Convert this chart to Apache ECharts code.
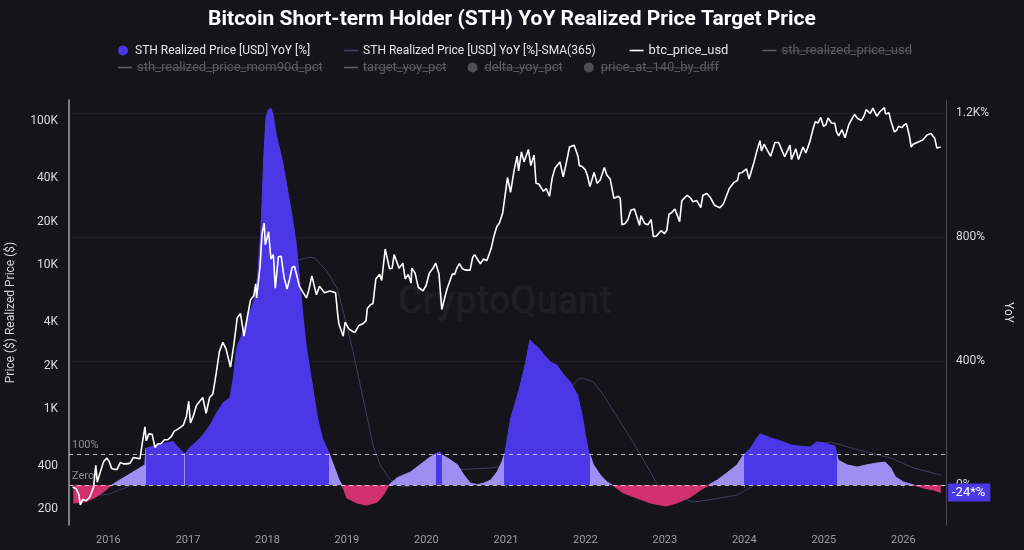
<!DOCTYPE html>
<html>
<head>
<meta charset="utf-8">
<title>Bitcoin Short-term Holder (STH) YoY Realized Price Target Price</title>
<script src="https://cdn.jsdelivr.net/npm/echarts@6/dist/echarts.min.js"></script>
<style>
  html, body { margin: 0; padding: 0; background: #15141a; }
  #chart { width: 1024px; height: 550px; }
</style>
</head>
<body>
<div id="chart"></div>
<script>
// btc price (usd), left log axis - one line per year
const priceDates = [
  '2015-07-20','2015-08-05','2015-08-18','2015-08-25','2015-09-05','2015-09-22','2015-10-08','2015-10-25','2015-11-04','2015-11-11','2015-11-25','2015-12-10','2015-12-25',
  '2016-01-05','2016-01-16','2016-01-28','2016-02-10','2016-02-25','2016-03-10','2016-03-25','2016-04-10','2016-04-25','2016-05-10','2016-05-25','2016-06-05','2016-06-17','2016-06-23','2016-07-05','2016-07-20','2016-08-02','2016-08-15','2016-08-30','2016-09-15','2016-09-30','2016-10-15','2016-10-30','2016-11-10','2016-11-25','2016-12-10','2016-12-25',
  '2017-01-04','2017-01-12','2017-01-25','2017-02-08','2017-02-22','2017-03-10','2017-03-25','2017-04-10','2017-04-25','2017-05-10','2017-05-25','2017-06-10','2017-06-25','2017-07-15','2017-07-30','2017-08-15','2017-08-30','2017-09-15','2017-10-01','2017-10-15','2017-10-30','2017-11-08','2017-11-12','2017-11-28','2017-12-07','2017-12-17','2017-12-22',
  '2018-01-06','2018-01-17','2018-01-28','2018-02-06','2018-02-20','2018-03-05','2018-03-18','2018-04-01','2018-04-12','2018-04-24','2018-05-05','2018-05-28','2018-06-12','2018-06-29','2018-07-10','2018-07-24','2018-08-14','2018-08-28','2018-09-04','2018-09-20','2018-10-15','2018-11-10','2018-11-20','2018-11-25','2018-12-15','2018-12-24',
  '2019-01-10','2019-01-28','2019-02-07','2019-02-25','2019-03-15','2019-03-30','2019-04-05','2019-04-20','2019-05-01','2019-05-14','2019-05-31','2019-06-10','2019-06-26','2019-07-16','2019-07-28','2019-08-06','2019-08-29','2019-09-15','2019-09-26','2019-10-10','2019-10-23','2019-10-26','2019-11-10','2019-11-25','2019-12-17','2019-12-31',
  '2020-01-15','2020-01-30','2020-02-13','2020-02-28','2020-03-12','2020-03-16','2020-04-05','2020-04-30','2020-05-10','2020-05-20','2020-06-01','2020-06-15','2020-07-01','2020-07-20','2020-08-01','2020-08-10','2020-09-05','2020-09-20','2020-10-05','2020-10-25','2020-11-05','2020-11-20','2020-12-01','2020-12-17',
  '2021-01-08','2021-01-22','2021-02-08','2021-02-21','2021-02-28','2021-03-13','2021-03-25','2021-04-14','2021-04-25','2021-05-10','2021-05-19','2021-06-01','2021-06-10','2021-06-22','2021-07-05','2021-07-20','2021-08-01','2021-08-14','2021-09-06','2021-09-21','2021-10-05','2021-10-20','2021-11-10','2021-11-28','2021-12-04','2021-12-15','2021-12-31',
  '2022-01-10','2022-01-22','2022-02-10','2022-02-24','2022-03-10','2022-03-29','2022-04-10','2022-04-25','2022-05-12','2022-06-01','2022-06-10','2022-06-18','2022-07-01','2022-07-15','2022-07-29','2022-08-14','2022-09-07','2022-09-13','2022-09-30','2022-10-15','2022-10-30','2022-11-05','2022-11-09','2022-11-21','2022-12-15','2022-12-30',
  '2023-01-10','2023-01-20','2023-02-01','2023-02-16','2023-03-10','2023-03-20','2023-04-14','2023-04-28','2023-05-10','2023-05-28','2023-06-15','2023-06-25','2023-07-13','2023-07-30','2023-08-17','2023-09-11','2023-09-25','2023-10-01','2023-10-24','2023-11-15','2023-12-01','2023-12-08','2023-12-20',
  '2024-01-11','2024-01-23','2024-02-15','2024-02-28','2024-03-13','2024-03-20','2024-04-01','2024-04-15','2024-05-01','2024-05-21','2024-06-07','2024-06-25','2024-07-05','2024-07-29','2024-08-05','2024-08-25','2024-09-06','2024-09-27','2024-10-10','2024-10-29','2024-11-12','2024-11-22','2024-12-05','2024-12-17','2024-12-30',
  '2025-01-10','2025-01-20','2025-02-05','2025-02-20','2025-02-28','2025-03-10','2025-03-25','2025-04-08','2025-04-25','2025-05-10','2025-05-22','2025-06-05','2025-06-22','2025-07-05','2025-07-14','2025-08-02','2025-08-14','2025-09-01','2025-09-15','2025-10-06','2025-10-11','2025-10-27','2025-11-04','2025-11-21','2025-12-01','2025-12-10','2025-12-25',
  '2026-01-05','2026-01-15','2026-01-28','2026-02-06','2026-02-15','2026-02-25','2026-03-15','2026-04-01','2026-04-20','2026-05-08','2026-05-25','2026-06-04','2026-06-22'
];
const priceValues = [
  285, 280, 255, 215, 235, 230, 245, 285, 405, 310, 365, 430, 455,
  430, 385, 380, 380, 425, 415, 415, 420, 460, 455, 450, 580, 750, 600, 670, 665, 540, 570, 575, 610, 610, 640, 700, 715, 740, 770, 890,
  1130, 800, 890, 1050, 1120, 1200, 930, 1200, 1270, 1750, 2500, 2900, 2600, 1950, 2750, 4300, 4600, 3200, 4400, 5700, 6100, 7400, 5900, 9800, 16500, 19500, 13800,
  17000, 11000, 11800, 6900, 11400, 11500, 8200, 6800, 7900, 9600, 9800, 7100, 6500, 5900, 6700, 8400, 6200, 7100, 7300, 6400, 6600, 6400, 4500, 3900, 3200, 4000,
  3600, 3450, 3400, 3800, 3900, 4100, 5000, 5300, 5400, 8000, 8600, 7800, 12900, 9400, 9500, 11800, 9500, 10300, 8000, 8600, 7500, 9500, 8800, 7000, 6600, 7200,
  8800, 9400, 10300, 8700, 4900, 5000, 6800, 8700, 8600, 9500, 10200, 9400, 9200, 9200, 11300, 11800, 10200, 11000, 10700, 13000, 15500, 18500, 19400, 23000,
  40500, 32000, 46000, 57000, 45000, 61000, 52000, 63500, 49000, 58000, 37000, 36500, 37000, 32500, 34000, 30000, 40000, 47000, 52000, 41000, 51000, 66000, 68000, 57000, 49000, 48500, 46000,
  41800, 35000, 44000, 37000, 39000, 47500, 42000, 39500, 29000, 30000, 29000, 19000, 19300, 20600, 24000, 24500, 18800, 22000, 19400, 19000, 20700, 21300, 15800, 15800, 17300, 16500,
  17400, 22500, 23100, 24500, 20000, 28000, 30500, 29300, 27500, 28000, 25000, 30500, 31400, 29300, 26000, 25000, 26300, 27500, 34000, 37500, 38700, 43500, 43700,
  46500, 39500, 52000, 62000, 73000, 62000, 69000, 63000, 57000, 71000, 71000, 61000, 56500, 68000, 54000, 64000, 54000, 66000, 60000, 72500, 88000, 99000, 97000, 106000, 92000,
  94000, 105000, 97000, 96500, 84000, 79000, 87000, 76500, 94000, 104000, 111000, 104000, 101000, 109000, 120000, 113000, 123000, 108000, 116000, 124000, 112000, 114000, 101000, 84000, 86000, 92000, 90000,
  94000, 96000, 80000, 66000, 69000, 70000, 72000, 74000, 80000, 82000, 76000, 65000, 66000
];

// STH realized price YoY [%], right axis
const yoyDates = [
  '2015-07-24','2015-09-10','2015-10-27','2015-12-10','2016-01-16','2016-06-17','2016-06-21','2016-07-21','2016-08-26','2016-10-24',
  '2016-11-25','2016-12-17','2017-01-08','2017-02-25','2017-04-10','2017-05-12','2017-06-11','2017-07-13','2017-07-28','2017-08-12',
  '2017-09-10','2017-10-12','2017-11-04','2017-11-18','2017-12-03','2017-12-14','2017-12-25','2018-01-05','2018-01-16','2018-01-27',
  '2018-02-10','2018-03-08','2018-03-30','2018-04-21','2018-05-12','2018-05-31','2018-06-14','2018-06-29','2018-07-21','2018-08-19',
  '2018-09-10','2018-10-09','2018-10-31','2018-11-26','2018-12-10','2019-01-01','2019-02-17','2019-04-02','2019-05-20','2019-06-18',
  '2019-07-13','2019-08-19','2019-10-20','2019-12-03','2020-01-12','2020-02-10','2020-02-21','2020-03-03','2020-03-10','2020-03-14',
  '2020-04-21','2020-05-23','2020-06-22','2020-07-21','2020-08-23','2020-09-21','2020-10-23','2020-11-21','2020-12-13','2020-12-28',
  '2021-01-23','2021-02-14','2021-03-08','2021-04-02','2021-04-21','2021-05-09','2021-05-31','2021-06-25','2021-07-24','2021-08-23',
  '2021-09-24','2021-10-24','2021-11-26','2021-12-17','2022-01-01','2022-01-16','2022-01-23','2022-02-07','2022-03-11','2022-04-10',
  '2022-05-05','2022-06-25','2022-08-26','2022-10-27','2023-01-05','2023-02-25','2023-04-28','2023-06-14','2023-07-21','2023-08-30',
  '2023-10-13','2023-11-29','2023-12-28','2024-01-04','2024-01-30','2024-02-28','2024-03-14','2024-05-01','2024-06-29','2024-08-01',
  '2024-09-14','2024-10-31','2024-11-29','2025-01-01','2025-01-30','2025-02-21','2025-02-28','2025-03-08','2025-03-11','2025-04-17',
  '2025-06-03','2025-07-17','2025-09-03','2025-10-09','2025-11-04','2025-11-26','2026-01-01','2026-02-17','2026-04-06','2026-05-20',
  '2026-06-22'
];
const yoyValues = [
  -58, -55, -42, -22, 0, 65, 118, 125, 132, 140,
  115, 99, 120, 150, 190, 232, 265, 282, 345, 440,
  494, 558, 603, 687, 839, 1042, 1184, 1210, 1216, 1194,
  1129, 1055, 968, 881, 784, 645, 539, 442, 345, 216,
  152, 106, 65, 16, 0, -42, -58, -65, -55, -32,
  0, 23, 42, 65, 87, 99, 104, 106, 101, 97,
  81, 65, 32, 6, 1, 6, 16, 42, 74, 106,
  216, 268, 323, 397, 468, 455, 442, 419, 397, 387,
  355, 332, 290, 226, 161, 106, 95, 65, 32, 10,
  0, -26, -42, -58, -68, -58, -39, -16, 0, 16,
  39, 65, 97, 103, 119, 152, 165, 152, 139, 129,
  125, 123, 139, 136, 130, 125, 103, 80, 74, 65,
  58, 65, 71, 74, 55, 26, 10, 0, -10, -16,
  -24
];

// STH realized price YoY [%] - SMA(365)
const smaDates = [
  '2015-07-24','2016-01-01','2016-07-01','2017-01-01','2017-04-15','2017-07-01','2017-09-15','2017-11-25','2018-02-05','2018-04-20',
  '2018-05-20','2018-07-15','2018-08-05','2018-10-01','2018-11-17','2018-12-16','2019-01-30','2019-03-03','2019-04-05','2019-05-01',
  '2019-06-03','2019-07-20','2019-09-16','2019-12-03','2020-02-20','2020-06-05','2020-10-23','2020-12-28','2021-04-20','2021-08-10',
  '2021-11-26','2021-12-20','2022-02-07','2022-03-25','2022-05-30','2022-07-27','2022-09-12','2022-10-27','2022-11-28','2023-03-15',
  '2023-05-12','2023-08-20','2023-11-29','2024-03-15','2024-07-01','2024-10-20','2025-01-30','2025-04-20','2025-07-18','2025-11-04',
  '2026-02-17','2026-06-22'
];
const smaValues = [
  -40, -30, 20, 80, 120, 170, 240, 340, 480, 620,
  726, 735, 733, 690, 635, 558, 429, 323, 216, 129,
  65, 16, -6, 0, 16, 50, 55, 62, 120, 250,
  340, 345, 332, 290, 216, 152, 97, 42, 0, -40,
  -55, -45, -32, 10, 70, 120, 139, 123, 106, 87,
  55, 32
];

const leftTicks = [200, 400, 1000, 2000, 4000, 10000, 20000, 40000, 100000];
const rightTicks = [0, 400, 800, 1200];

const YOY = 'STH Realized Price [USD] YoY [%]';
const SMA = 'STH Realized Price [USD] YoY [%]-SMA(365)';
const offNames = ['sth_realized_price_usd', 'sth_realized_price_mom90d_pct', 'target_yoy_pct', 'delta_yoy_pct', 'price_at_140_by_diff'];

// colours of the yoy area: <0, 0..100, >100
const bandColors = ['#d2316f', '#9d8ef2', '#4b37e6'];
const offColor = '#5d5c64';
// thin horizontal bar used as legend icon for line series
const LINE_ICON = 'path://M0,0M0,4.2L14,4.2L14,5.8L0,5.8ZM14,10';

function pairs(dates, vals) {
  return dates.map((d, i) => [d, vals[i]]);
}

function band(v) {
  return v >= 100 ? 2 : (v >= 0 ? 1 : 0);
}

// split the time axis where the yoy crosses 0 / 100, so the area is coloured in columns
function bandPieces() {
  const ts = yoyDates.map(d => +echarts.time.parse(d));
  const pieces = [];
  let start = null;
  let cur = band(yoyValues[0]);
  for (let i = 1; i < ts.length; i++) {
    const b = band(yoyValues[i]);
    if (b === cur) continue;
    const v0 = yoyValues[i - 1], v1 = yoyValues[i];
    const step = b > cur ? 1 : -1;
    for (let k = cur; k !== b; k += step) {
      const th = step > 0 ? (k === 0 ? 0 : 100) : (k === 2 ? 100 : 0);
      const x = ts[i - 1] + (ts[i] - ts[i - 1]) * (th - v0) / (v1 - v0);
      const p = start === null ? { lt: x } : { gte: start, lt: x };
      p.color = bandColors[k];
      pieces.push(p);
      start = x;
    }
    cur = b;
  }
  pieces.push({ gte: start, color: bandColors[cur] });
  return pieces;
}

// strike-through for the switched off legend entries (stretched as text background)
function strikeImage() {
  const c = document.createElement('canvas');
  c.width = 8;
  c.height = 16;
  const ctx = c.getContext('2d');
  ctx.fillStyle = offColor;
  ctx.fillRect(0, 8, 8, 1);
  return c;
}
const strike = strikeImage();

function fmtPrice(v) {
  return v >= 1000 ? (v / 1000) + 'K' : String(v);
}
function fmtPct(v) {
  return v >= 1000 ? (v / 1000) + 'K%' : v + '%';
}
function fmtLegend(name) {
  if (offNames.indexOf(name) >= 0) return '{off|' + name + '}';
  if (name === 'btc_price_usd') return '{low|' + name + '}';
  return name;
}

const selected = {};
offNames.forEach(n => { selected[n] = false; });

const lastYoy = yoyValues[yoyValues.length - 1];

const legendBase = {
  left: 113,
  itemWidth: 14,
  itemHeight: 10,
  textStyle: {
    color: '#e6e6e6', fontSize: 12,
    rich: {
      off: { fontSize: 13, backgroundColor: { image: strike } },
      low: { fontSize: 13 }
    }
  },
  inactiveColor: offColor,
  selected: selected,
  formatter: fmtLegend
};

const chart = echarts.init(document.getElementById('chart'));
const option = {
  backgroundColor: '#15141a',
  animation: false,
  textStyle: { fontFamily: 'Roboto, sans-serif' },
  title: {
    text: 'Bitcoin Short-term Holder (STH) YoY Realized Price Target Price',
    left: 'center',
    top: 4,
    textStyle: { color: '#ffffff', fontSize: 21, fontWeight: 'bold', fontFamily: 'Roboto' }
  },
  legend: [
    Object.assign({}, legendBase, {
      top: 39,
      itemGap: 34,
      data: [
        { name: YOY, icon: 'circle', itemStyle: { color: bandColors[2] } },
        { name: SMA, icon: LINE_ICON },
        { name: 'btc_price_usd', icon: LINE_ICON },
        { name: 'sth_realized_price_usd', icon: LINE_ICON }
      ]
    }),
    Object.assign({}, legendBase, {
      top: 56,
      itemGap: 21,
      data: [
        { name: 'sth_realized_price_mom90d_pct', icon: LINE_ICON },
        { name: 'target_yoy_pct', icon: LINE_ICON },
        { name: 'delta_yoy_pct', icon: 'circle' },
        { name: 'price_at_140_by_diff', icon: 'circle' }
      ]
    })
  ],
  grid: { left: 69, right: 78, top: 100, bottom: 25, outerBoundsMode: 'none' },
  visualMap: [{
    show: false,
    type: 'piecewise',
    dimension: 0,
    seriesIndex: 1,
    pieces: bandPieces()
  }],
  graphic: [{
    type: 'text',
    silent: true,
    z: 0,
    style: {
      text: 'CryptoQuant', x: 505, y: 303,
      align: 'center', verticalAlign: 'middle',
      font: '500 38px Roboto', fill: 'rgba(255,255,255,0.045)'
    }
  }],
  xAxis: {
    type: 'time',
    min: +echarts.time.parse('2015-07-04'),
    max: +echarts.time.parse('2026-07-16'),
    minInterval: 365 * 24 * 3600 * 1000,
    maxInterval: 366 * 24 * 3600 * 1000,
    axisLine: { lineStyle: { color: '#2e2d35' } },
    axisTick: { show: true, length: 3, lineStyle: { color: '#45444c' } },
    axisLabel: { color: '#9c9ca2', fontSize: 11, margin: 10, formatter: '{yyyy}' },
    splitLine: { show: false }
  },
  yAxis: [
    {
      type: 'log',
      logBase: 10,
      min: 156,
      max: 140000,
      position: 'left',
      name: 'Price ($) Realized Price ($)',
      nameLocation: 'middle',
      nameGap: 52,
      nameRotate: 90,
      nameTextStyle: { color: '#d4d4d8', fontSize: 12 },
      axisLine: { show: true, lineStyle: { color: '#a0a0a6', width: 1.5 } },
      axisTick: { show: false },
      axisLabel: { customValues: leftTicks, formatter: fmtPrice, color: '#dadade', fontSize: 12, margin: 11 },
      splitLine: { show: false }
    },
    {
      type: 'value',
      min: -129,
      max: 1242,
      position: 'right',
      name: 'YoY',
      nameLocation: 'middle',
      nameGap: 56,
      nameRotate: -90,
      nameTextStyle: { color: '#d4d4d8', fontSize: 12 },
      axisLine: { show: true, lineStyle: { color: '#4c4b53' } },
      axisTick: { show: false, customValues: rightTicks },
      axisLabel: { customValues: rightTicks, formatter: fmtPct, color: '#dadade', fontSize: 12, margin: 10 },
      splitLine: { show: true, lineStyle: { color: '#1f1e25' } }
    }
  ],
  series: [
    {
      name: SMA,
      type: 'line',
      yAxisIndex: 1,
      symbol: 'none',
      z: 1,
      lineStyle: { color: '#3c3f5e', width: 1 },
      itemStyle: { color: '#3c3f5e' },
      data: pairs(smaDates, smaValues)
    },
    {
      name: YOY,
      type: 'line',
      yAxisIndex: 1,
      symbol: 'none',
      z: 2,
      lineStyle: { width: 1 },
      areaStyle: { opacity: 1 },
      data: pairs(yoyDates, yoyValues),
      markLine: {
        silent: true,
        symbol: ['none', 'none'],
        lineStyle: { color: 'rgba(235,235,240,0.75)', type: [4, 4], width: 1 },
        label: { position: 'insideStartTop', formatter: '{b}', color: '#8c8b92', fontSize: 11, distance: 3 },
        data: [
          { yAxis: 100, name: '100%' },
          { yAxis: 0, name: 'Zero' },
          {
            yAxis: lastYoy, name: 'last',
            lineStyle: { color: 'rgba(0,0,0,0)' },
            label: {
              position: 'end', distance: 2,
              formatter: Math.round(lastYoy) + '*%',
              color: '#ffffff', fontSize: 13,
              backgroundColor: '#4b37e6', padding: [3, 5, 2, 4]
            }
          }
        ]
      }
    },
    {
      name: 'btc_price_usd',
      type: 'line',
      yAxisIndex: 0,
      symbol: 'none',
      z: 3,
      lineStyle: { color: '#ffffff', width: 1.6 },
      itemStyle: { color: '#ffffff' },
      data: pairs(priceDates, priceValues)
    },
    { name: 'sth_realized_price_usd', type: 'line', yAxisIndex: 0, symbol: 'none', data: [] },
    { name: 'sth_realized_price_mom90d_pct', type: 'line', yAxisIndex: 1, symbol: 'none', data: [] },
    { name: 'target_yoy_pct', type: 'line', yAxisIndex: 1, symbol: 'none', data: [] },
    { name: 'delta_yoy_pct', type: 'scatter', yAxisIndex: 1, data: [] },
    { name: 'price_at_140_by_diff', type: 'scatter', yAxisIndex: 0, data: [] }
  ]
};
chart.setOption(option);
</script>
</body>
</html>
